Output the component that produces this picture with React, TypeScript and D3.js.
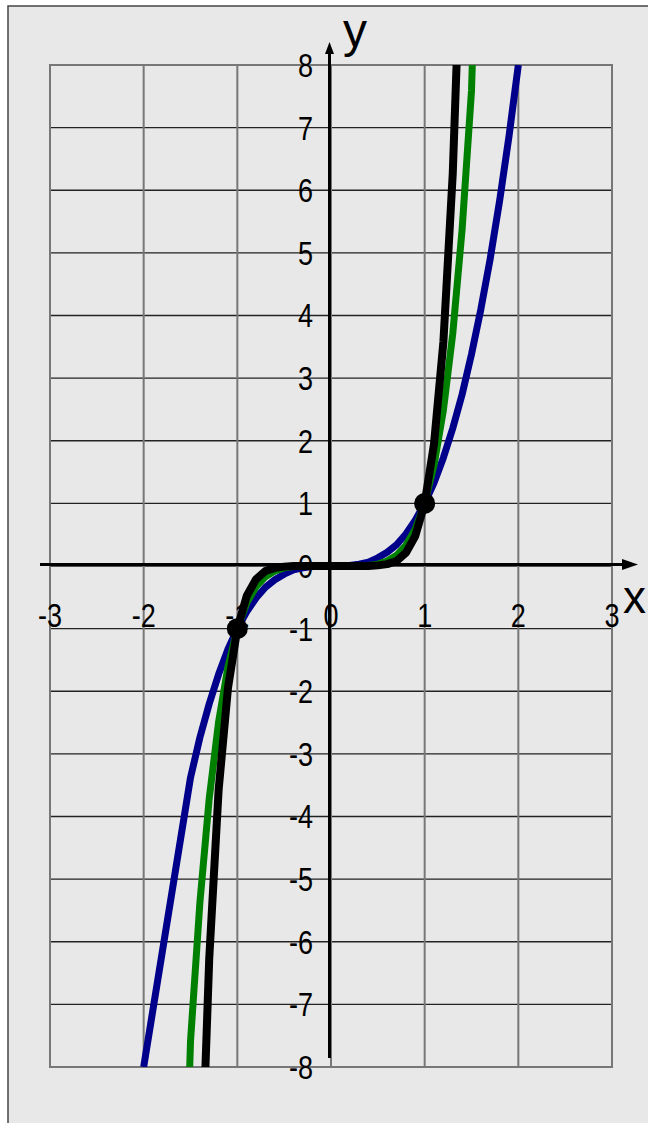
import React from "react";
import * as d3 from "d3";

// ---- data ----
const xTicks = [-3, -2, -1, 0, 1, 2, 3];
const yTicks = [-8, -7, -6, -5, -4, -3, -2, -1, 0, 1, 2, 3, 4, 5, 6, 7, 8];
const xTickLabels = ["-3", "-2", "-1", "0", "1", "2", "3"];
const yTickLabels = ["-8", "-7", "-6", "-5", "-4", "-3", "-2", "-1", "0", "1", "2", "3", "4", "5", "6", "7", "8"];

const blueX = [-2, -1.5, -1.4, -1.3, -1.2, -1.1, -1, -0.9, -0.8, -0.7, -0.6, -0.5, -0.4, -0.3, -0.2, -0.1, 0,
  0.1, 0.2, 0.3, 0.4, 0.5, 0.6, 0.7, 0.8, 0.9, 1, 1.1, 1.2, 1.3, 1.4, 1.5, 1.6, 1.7, 1.8, 1.9, 2];
const blueY = [-8, -3.38, -2.74, -2.2, -1.73, -1.33, -1, -0.73, -0.51, -0.34, -0.22, -0.13, -0.06, -0.03, -0.01, 0, 0,
  0, 0.01, 0.03, 0.06, 0.13, 0.22, 0.34, 0.51, 0.73, 1, 1.33, 1.73, 2.2, 2.74, 3.38, 4.1, 4.91, 5.83, 6.86, 8];

const curveX = [-2, -1.5, -1.4, -1.3, -1.2, -1.1, -1, -0.9, -0.8, -0.7, -0.6, -0.5, -0.4, -0.3, -0.2, -0.1, 0,
  0.1, 0.2, 0.3, 0.4, 0.5, 0.6, 0.7, 0.8, 0.9, 1, 1.1, 1.2, 1.3, 1.4, 1.5, 2];
const greenY = [-32, -7.59, -5.38, -3.71, -2.49, -1.61, -1, -0.59, -0.33, -0.17, -0.08, -0.03, -0.01, 0, 0, 0, 0,
  0, 0, 0, 0.01, 0.03, 0.08, 0.17, 0.33, 0.59, 1, 1.61, 2.49, 3.71, 5.38, 7.59, 32];
const blackY = [-128, -17.09, -10.54, -6.27, -3.58, -1.95, -1, -0.48, -0.21, -0.08, -0.03, -0.01, 0, 0, 0, 0, 0,
  0, 0, 0, 0, 0.01, 0.03, 0.08, 0.21, 0.48, 1, 1.95, 3.58, 6.27, 10.54, 17.09, 128];
const markerX = [-1, 1];
const markerY = [-1, 1];

const W = 648;
const H = 1123;

export default function App() {
  const x = d3.scaleLinear().domain([-3, 3]).range([50, 612]);
  const y = d3.scaleLinear().domain([-8, 8]).range([1067, 65]);

  const makeLine = (xsArr: number[]) =>
    d3
      .line<number>()
      .x((_, i) => x(xsArr[i]))
      .y((d) => y(d))
      .curve(d3.curveLinear);

  const series = [
    { xs: blueX, vals: blueY, color: "#00008b", w: 7 },
    { xs: curveX, vals: greenY, color: "#008000", w: 7 },
    { xs: curveX, vals: blackY, color: "#000000", w: 8 },
  ];

  const font = "'Liberation Sans', Arial, sans-serif";
  const x0 = x(0);
  const y0 = y(0);

  return (
    <svg
      width={W}
      height={H}
      style={{ position: "absolute", left: 0, top: 0, background: "#ffffff" }}
    >
      <defs>
        <clipPath id="plotclip">
          <rect x={x(-3)} y={y(8)} width={x(3) - x(-3)} height={y(-8) - y(8)} />
        </clipPath>
      </defs>
      <rect x={8} y={6} width={W} height={H} fill="#e8e8e8" stroke="#444" strokeWidth={1.5} />

      {/* horizontal grid */}
      {yTicks.map((t) => (
        <line key={"h" + t} x1={x(-3)} x2={x(3)} y1={y(t)} y2={y(t)} stroke="#222" strokeWidth={1.3} />
      ))}
      {/* vertical grid */}
      {xTicks.map((t) => (
        <line key={"v" + t} x1={x(t)} x2={x(t)} y1={y(8)} y2={y(-8)} stroke="#777" strokeWidth={2} />
      ))}
      <rect x={x(-3)} y={y(8)} width={x(3) - x(-3)} height={y(-8) - y(8)} fill="none" stroke="#777" strokeWidth={2} />

      {/* axes */}
      <line x1={40} x2={624} y1={y0 - 1.5} y2={y0 - 1.5} stroke="#000" strokeWidth={3} />
      <path d={`M638,${y0 - 1.5} L622,${y0 - 7} L622,${y0 + 4} Z`} fill="#000" />
      <line x1={x0 - 1.5} x2={x0 - 1.5} y1={1058} y2={52} stroke="#000" strokeWidth={3} />
      <path d={`M${x0 - 1.5},42 L${x0 - 6},54 L${x0 + 3},54 Z`} fill="#000" />

      {/* tick labels */}
      {xTicks.map((t, i) => (
        <text
          key={"xl" + t}
          transform={`translate(${x(t)},627) scale(0.82,1)`}
          textAnchor="middle"
          fontFamily={font}
          fontSize={33}
          fill="#000"
        >
          {xTickLabels[i]}
        </text>
      ))}
      {yTicks.map((t, i) => (
        <text
          key={"yl" + t}
          transform={`translate(313,${y(t)}) scale(0.82,1)`}
          dy="0.36em"
          textAnchor="end"
          fontFamily={font}
          fontSize={33}
          fill="#000"
        >
          {yTickLabels[i]}
        </text>
      ))}
      <text x={343} y={47} fontFamily={font} fontSize={48} fill="#000">y</text>
      <text x={623} y={613} fontFamily={font} fontSize={46} fill="#000">x</text>

      {/* curves */}
      <g clipPath="url(#plotclip)">
        {series.map((s, i) => (
          <path
            key={i}
            d={makeLine(s.xs)(s.vals) || ""}
            fill="none"
            stroke={s.color}
            strokeWidth={s.w}
            strokeLinejoin="round"
          />
        ))}
      </g>
      {markerX.map((mx, i) => (
        <circle key={"m" + i} cx={x(mx)} cy={y(markerY[i])} r={10.5} fill="#000" />
      ))}
    </svg>
  );
}
